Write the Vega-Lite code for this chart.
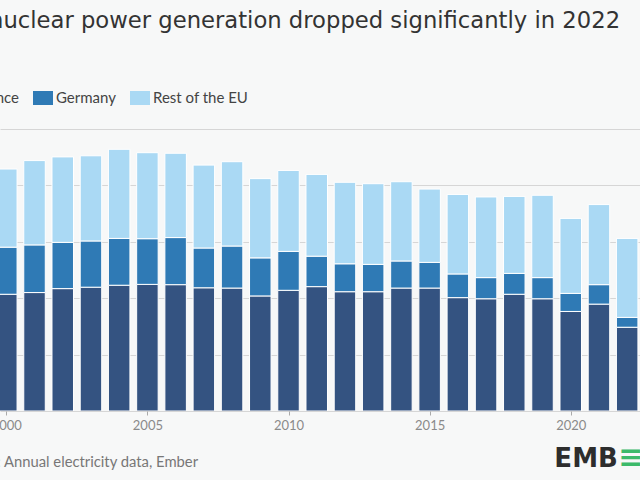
{
  "$schema": "https://vega.github.io/schema/vega-lite/v6.json",
  "autosize": "none",
  "width": 640,
  "height": 282,
  "padding": {"left": 0, "top": 129, "right": 0, "bottom": 69},
  "background": "#f7f8f8",
  "title": {
    "text": "nuclear power generation dropped significantly in 2022",
    "anchor": "start",
    "frame": "group",
    "offset": 55,
    "dx": -11,
    "font": "DejaVu Sans",
    "fontSize": 22.7,
    "fontWeight": "normal",
    "color": "#333333"
  },
  "config": {
    "view": {"stroke": null},
    "font": "Lato"
  },
  "data": {
    "values": [
      {"year": 2000, "source": "France", "twh": 414}, {"year": 2000, "source": "Germany", "twh": 167}, {"year": 2000, "source": "Rest of the EU", "twh": 277},
      {"year": 2001, "source": "France", "twh": 420}, {"year": 2001, "source": "Germany", "twh": 169}, {"year": 2001, "source": "Rest of the EU", "twh": 299},
      {"year": 2002, "source": "France", "twh": 434}, {"year": 2002, "source": "Germany", "twh": 164}, {"year": 2002, "source": "Rest of the EU", "twh": 303},
      {"year": 2003, "source": "France", "twh": 439}, {"year": 2003, "source": "Germany", "twh": 164}, {"year": 2003, "source": "Rest of the EU", "twh": 302},
      {"year": 2004, "source": "France", "twh": 446}, {"year": 2004, "source": "Germany", "twh": 166}, {"year": 2004, "source": "Rest of the EU", "twh": 316},
      {"year": 2005, "source": "France", "twh": 449}, {"year": 2005, "source": "Germany", "twh": 162}, {"year": 2005, "source": "Rest of the EU", "twh": 305},
      {"year": 2006, "source": "France", "twh": 448}, {"year": 2006, "source": "Germany", "twh": 167}, {"year": 2006, "source": "Rest of the EU", "twh": 299},
      {"year": 2007, "source": "France", "twh": 437}, {"year": 2007, "source": "Germany", "twh": 141}, {"year": 2007, "source": "Rest of the EU", "twh": 294},
      {"year": 2008, "source": "France", "twh": 436}, {"year": 2008, "source": "Germany", "twh": 149}, {"year": 2008, "source": "Rest of the EU", "twh": 299},
      {"year": 2009, "source": "France", "twh": 408}, {"year": 2009, "source": "Germany", "twh": 135}, {"year": 2009, "source": "Rest of the EU", "twh": 281},
      {"year": 2010, "source": "France", "twh": 428}, {"year": 2010, "source": "Germany", "twh": 138}, {"year": 2010, "source": "Rest of the EU", "twh": 287},
      {"year": 2011, "source": "France", "twh": 441}, {"year": 2011, "source": "Germany", "twh": 108}, {"year": 2011, "source": "Rest of the EU", "twh": 290},
      {"year": 2012, "source": "France", "twh": 423}, {"year": 2012, "source": "Germany", "twh": 99}, {"year": 2012, "source": "Rest of the EU", "twh": 289},
      {"year": 2013, "source": "France", "twh": 423}, {"year": 2013, "source": "Germany", "twh": 97}, {"year": 2013, "source": "Rest of the EU", "twh": 286},
      {"year": 2014, "source": "France", "twh": 436}, {"year": 2014, "source": "Germany", "twh": 96}, {"year": 2014, "source": "Rest of the EU", "twh": 281},
      {"year": 2015, "source": "France", "twh": 436}, {"year": 2015, "source": "Germany", "twh": 91}, {"year": 2015, "source": "Rest of the EU", "twh": 260},
      {"year": 2016, "source": "France", "twh": 402}, {"year": 2016, "source": "Germany", "twh": 84}, {"year": 2016, "source": "Rest of the EU", "twh": 282},
      {"year": 2017, "source": "France", "twh": 398}, {"year": 2017, "source": "Germany", "twh": 75}, {"year": 2017, "source": "Rest of the EU", "twh": 286},
      {"year": 2018, "source": "France", "twh": 414}, {"year": 2018, "source": "Germany", "twh": 74}, {"year": 2018, "source": "Rest of the EU", "twh": 273},
      {"year": 2019, "source": "France", "twh": 398}, {"year": 2019, "source": "Germany", "twh": 75}, {"year": 2019, "source": "Rest of the EU", "twh": 292},
      {"year": 2020, "source": "France", "twh": 353}, {"year": 2020, "source": "Germany", "twh": 64}, {"year": 2020, "source": "Rest of the EU", "twh": 266},
      {"year": 2021, "source": "France", "twh": 379}, {"year": 2021, "source": "Germany", "twh": 69}, {"year": 2021, "source": "Rest of the EU", "twh": 284},
      {"year": 2022, "source": "France", "twh": 297}, {"year": 2022, "source": "Germany", "twh": 35}, {"year": 2022, "source": "Rest of the EU", "twh": 280}
    ]
  },
  "layer": [
    {
      "mark": {"type": "bar", "width": 21.5, "clip": true, "stroke": "#ffffff", "strokeWidth": 1},
      "encoding": {
        "x": {
          "field": "year",
          "type": "quantitative",
          "scale": {"domain": [1999.954, 2022.277], "nice": false, "zero": false},
          "axis": {
            "values": [2000, 2005, 2010, 2015, 2020],
            "format": "d",
            "grid": false,
            "domain": false,
            "tickSize": 4,
            "tickColor": "#aaaaaa",
            "labelColor": "#8a8a8a",
            "labelFontSize": 13,
            "labelPadding": 4,
            "labelFlush": false,
            "labelFont": "Lato",
            "title": "Source: Annual electricity data, Ember",
            "titleAnchor": "start",
            "titleAlign": "left",
            "titleX": -48,
            "titleY": 55,
            "titleBaseline": "alphabetic",
            "titleFont": "Lato",
            "titleFontSize": 14.8,
            "titleFontWeight": "normal",
            "titleColor": "#777777"
          }
        },
        "y": {
          "field": "twh",
          "type": "quantitative",
          "stack": "zero",
          "scale": {"domain": [0, 1000], "nice": false},
          "axis": {
            "values": [0, 200, 400, 600, 800, 1000],
            "labels": false,
            "ticks": false,
            "domain": false,
            "title": null,
            "gridColor": "#d6d6d6",
            "gridWidth": 1
          }
        },
        "color": {
          "field": "source",
          "type": "nominal",
          "scale": {
            "domain": ["France", "Germany", "Rest of the EU"],
            "range": ["#345381", "#2f7ab5", "#aad9f4"]
          },
          "legend": {
            "title": null,
            "orient": "none",
            "direction": "horizontal",
            "legendX": -48,
            "legendY": -41,
            "padding": 0,
            "symbolType": "M-1,-0.7H1V0.7H-1Z",
            "symbolSize": 400,
            "symbolStrokeWidth": 0,
            "symbolOpacity": 1,
            "labelFont": "Lato",
            "labelFontSize": 15,
            "labelColor": "#444444",
            "labelOffset": 3,
            "columnPadding": 14
          }
        },
        "order": {"field": "source", "sort": "ascending"}
      }
    },
    {
      "data": {"values": [{"logo": "EMB", "mark2": "≡"}]},
      "mark": {"type": "text", "align": "left", "baseline": "alphabetic", "font": "DejaVu Sans", "fontWeight": "bold", "fontSize": 26, "color": "#2d2d2d", "clip": false},
      "encoding": {
        "text": {"field": "logo"},
        "x": {"datum": 2019.42},
        "y": {"datum": -199}
      }
    },
    {
      "data": {"values": [{"logo": "EMB", "mark2": "≡"}]},
      "mark": {"type": "text", "align": "left", "baseline": "alphabetic", "font": "DejaVu Sans", "fontWeight": "bold", "fontSize": 30, "color": "#3cba6a", "clip": false},
      "encoding": {
        "text": {"field": "mark2"},
        "x": {"datum": 2021.68},
        "y": {"datum": -197}
      }
    }
  ]
}
